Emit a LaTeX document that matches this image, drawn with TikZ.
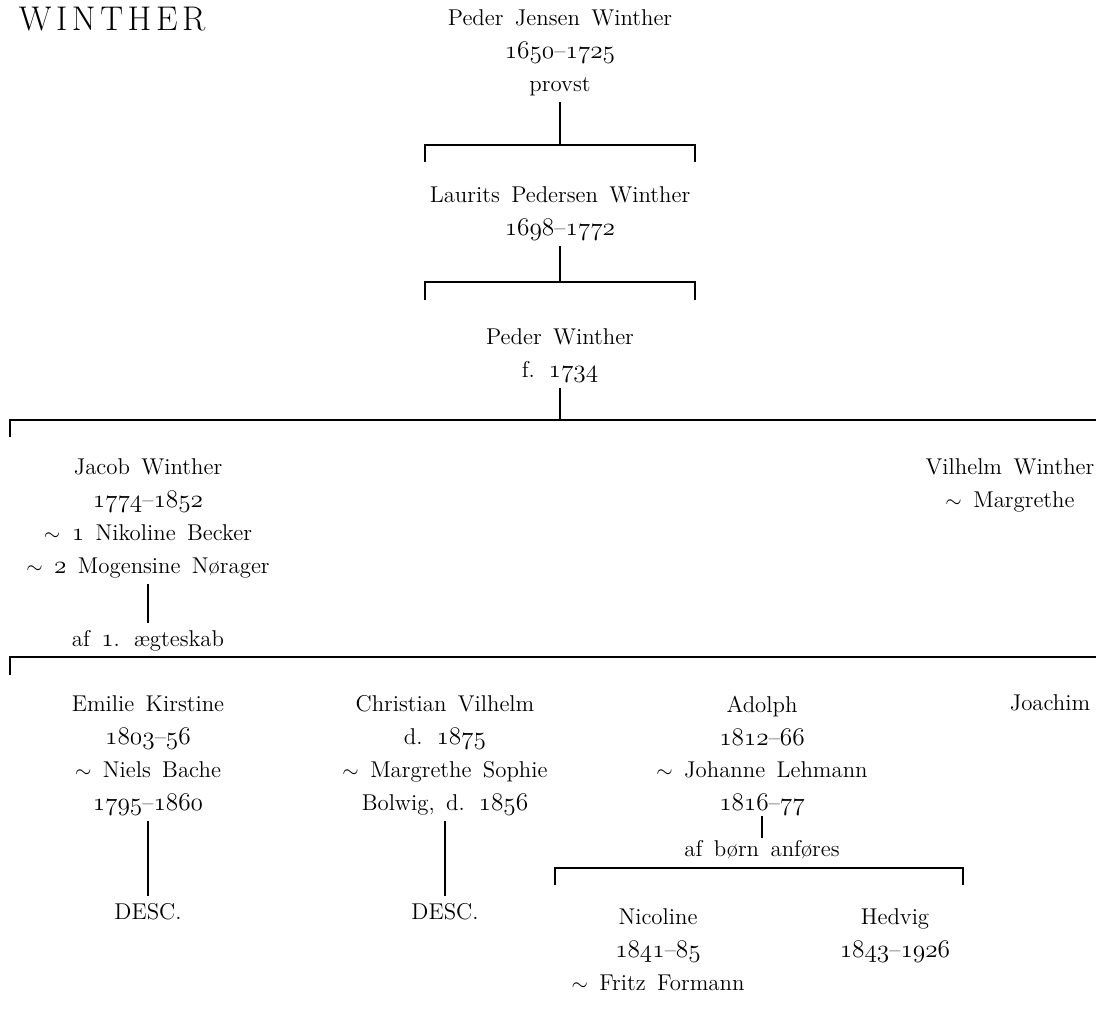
\documentclass[tikz,border=0pt]{standalone}
\usepackage{tikz}

\newcommand{\yr}[1]{{\fontsize{14.4}{18.7}\usefont{OML}{cmm}{m}{it}#1}}
\newcommand{\pfont}{\fontsize{13}{18.7}\selectfont}

\begin{document}
\begin{tikzpicture}[x=0.02cm, y=-0.02cm, line width=1pt,
        person/.style={align=center, inner sep=0pt, anchor=north, font=\pfont,
                execute at begin node={\spaceskip=0.5em\relax\strut}, execute at end node=\strut}]
                  \useasboundingbox (0, 0) rectangle (1096, 1022);

                  \node[anchor=west, inner sep=0pt, font=\fontsize{19.5}{21}\selectfont] (title) at (18, 19)
                        {W\kern2.6pt I\kern2.6pt N\kern2.6pt T\kern2.6pt H\kern2.6pt E\kern2.6pt R};

                  \node[person] (pjw) at (560, 9) {Peder Jensen Winther\\ \yr{1650}--\yr{1725}\\ provst};
                  \node[person] (lpw) at (560, 186) {Laurits Pedersen Winther\\ \yr{1698}--\yr{1772}};
                  \node[person] (pw) at (560, 328) {Peder Winther\\ f. \yr{1734}};

                  \node[person] (jacob) at (148, 458) {Jacob Winther\\ \yr{1774}--\yr{1852}\\
                        $\sim$ \yr{1} Nikoline Becker\\ $\sim$ \yr{2} Mogensine Nørager};
                  \node[person] (vilhelm) at (1010, 458) {Vilhelm Winther\\ $\sim$ Margrethe};
                  \node[person] (note1) at (148, 623) {af \yr{1}. ægteskab};

                  \node[person] (emilie) at (148, 695) {Emilie Kirstine\\ \yr{1803}--\yr{56}\\
                        $\sim$ Niels Bache\\ \yr{1795}--\yr{1860}};
                  \node[person] (christian) at (445, 695) {Christian Vilhelm\\ d. \yr{1875}\\
                        $\sim$ Margrethe Sophie\\ Bolwig, d. \yr{1856}};
                  \node[person] (adolph) at (762, 695) {Adolph\\ \yr{1812}--\yr{66}\\
                        $\sim$ Johanne Lehmann\\ \yr{1816}--\yr{77}};
                  \node[person] (joachim) at (1050, 687) {Joachim};

                  \node[person] (desc1) at (148, 896) {DESC.};
                  \node[person] (desc2) at (445, 896) {DESC.};
                  \node[person] (note2) at (762, 833) {af børn anføres};

                  \node[person] (nicoline) at (658, 908) {Nicoline\\ \yr{1841}--\yr{85}\\ $\sim$ Fritz Formann};
                  \node[person] (hedvig) at (895, 908) {Hedvig\\ \yr{1843}--\yr{1926}};

                  \coordinate (b1) at (560, 145);
                  \coordinate (b2) at (560, 282);
                  \coordinate (b3) at (560, 420);

                  \draw (425, 162) -- (425, 145) -- (695, 145) -- (695, 162);
                  \draw (425, 300) -- (425, 282) -- (695, 282) -- (695, 300);
                  \draw (10, 437) -- (10, 420) -- (1096, 420);
                  \draw (10, 675) -- (10, 657) -- (1096, 657);
                  \draw (555, 885) -- (555, 868) -- (963, 868) -- (963, 885);

                  \draw (pjw.south) -- (b1);
                  \draw (lpw.south) -- (b2);
                  \draw (pw.south) -- (b3);
                  \draw (jacob.south) -- (note1.north);
                  \draw (emilie.south) -- (desc1.north);
                  \draw (christian.south) -- (desc2.north);
                  \draw[shorten <=-3pt, shorten >=-3pt] (adolph.south) -- (note2.north);
              \end{tikzpicture}
\end{document}
